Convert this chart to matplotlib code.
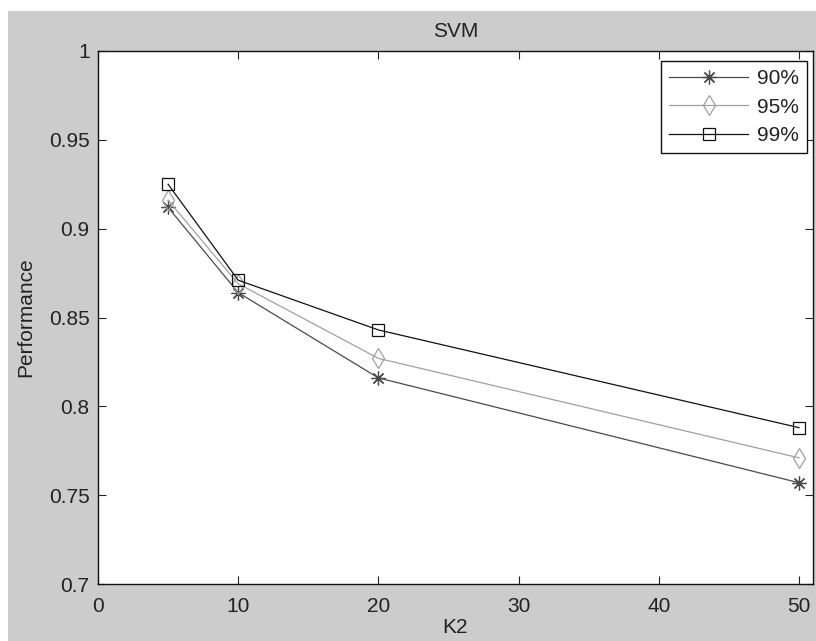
import matplotlib
matplotlib.use("Agg")
import matplotlib.pyplot as plt
from matplotlib.patches import Rectangle

k2 = [5, 10, 20, 50]
perf_90 = [0.912, 0.864, 0.816, 0.757]
perf_95 = [0.916, 0.869, 0.827, 0.771]
perf_99 = [0.925, 0.871, 0.843, 0.788]
series_labels = ["90%", "95%", "99%"]
xticks = [0, 10, 20, 30, 40, 50]
yticks = [0.7, 0.75, 0.8, 0.85, 0.9, 0.95, 1.0]
ytick_labels = ["0.7", "0.75", "0.8", "0.85", "0.9", "0.95", "1"]

plt.rcParams['font.family'] = ['Liberation Sans', 'DejaVu Sans']
W, H = 816, 641
fig = plt.figure(figsize=(W / 100, H / 100), dpi=100)
fig.patch.set_facecolor('white')
fig.patches.append(Rectangle((8 / W, 0), 1 - 8 / W, 1 - 11 / H,
                             transform=fig.transFigure, facecolor='#cccccc',
                             edgecolor='none', zorder=-10))

ax = fig.add_axes([98 / W, (H - 584) / H, (813 - 98) / W, (584 - 51) / H])
ax.set_facecolor('white')

ax.plot(k2, perf_90, color='#4a4a4a', lw=0.9, marker=(8, 2, 0), ms=10,
        mew=0.9, label=series_labels[0])
ax.plot(k2, perf_95, color='#a0a0a0', lw=0.9, marker='d', ms=10,
        mfc='none', mew=0.9, label=series_labels[1])
ax.plot(k2, perf_99, color='#111111', lw=0.9, marker='s', ms=8.5,
        mfc='none', mew=0.9, label=series_labels[2])

ax.set_xlim(0, 51)
ax.set_ylim(0.7, 1.0)
ax.set_xticks(xticks)
ax.set_xticklabels([str(t) for t in xticks])
ax.set_yticks(yticks)
ax.set_yticklabels(ytick_labels)
ax.tick_params(direction='in', length=6, width=0.8, top=True, right=True,
               labelsize=15, colors='#222222')
ax.tick_params(axis='x', pad=9)
ax.tick_params(axis='y', pad=6)
for s in ax.spines.values():
    s.set_linewidth(1.0)
    s.set_color('#111111')

ax.set_title("SVM", fontsize=15, color='#222222', pad=10)
ax.set_xlabel("K2", fontsize=15, color='#222222', labelpad=2)
ax.set_ylabel("Performance", fontsize=15, color='#222222', labelpad=10)

leg = ax.legend(loc='upper right', bbox_to_anchor=(807 / W, 1 - 61 / H),
                bbox_transform=fig.transFigure, borderaxespad=0,
                fontsize=15, fancybox=False, framealpha=1, edgecolor='#111111',
                handlelength=3.8, handletextpad=0.4, labelspacing=0.45,
                borderpad=0.4)
leg.get_frame().set_linewidth(1.0)
for t in leg.get_texts():
    t.set_color('#222222')

fig.savefig("out.png", dpi=100)
